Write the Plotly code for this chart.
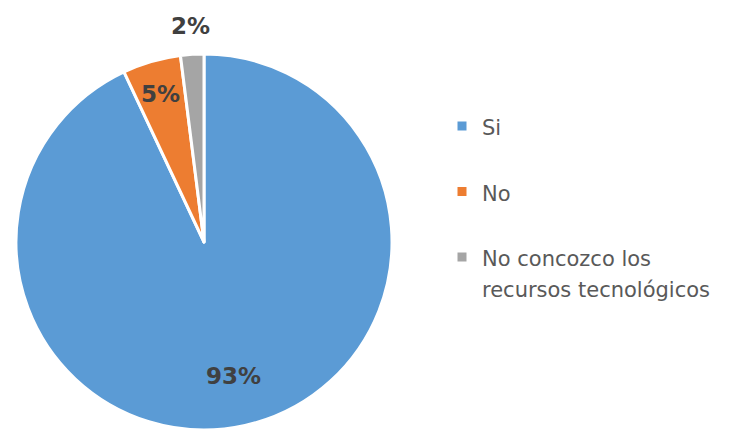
import math
import plotly.graph_objects as go

# Survey answers and their shares (%)
categories = ["Si", "No", "No concozco los recursos tecnológicos"]
legend_lines = [["Si"], ["No"], ["No concozco los", "recursos tecnológicos"]]
shares = [93, 5, 2]
colors = ["#5B9BD5", "#ED7D31", "#A5A5A5"]

W, H = 745, 430

# pie geometry in pixels (domain derived from it)
cx, cy, r = 204, 242, 188
# distance of each percentage label from the centre, as a fraction of the radius
label_radius = [0.73, 0.82, 1.15]

LEGEND_PX = 21


def legend_label(lines):
    body = "<br>".join(f"<span style='font-size:{LEGEND_PX}px'>{t}</span>" for t in lines)
    # one-line entries get a blank second line so the entries are spaced out
    return body + ("<br> " if len(lines) == 1 else "")


labels = [legend_label(l) for l in legend_lines]

fig = go.Figure(
    go.Pie(
        labels=labels,
        values=shares,
        customdata=categories,
        sort=False,
        direction="clockwise",
        rotation=0,
        marker=dict(colors=colors, line=dict(color="white", width=3)),
        textinfo="none",
        hovertemplate="%{customdata}: %{value}%<extra></extra>",
        domain=dict(
            x=[(cx - r) / W, (cx + r) / W],
            y=[max(0.0, 1 - (cy + r) / H), 1 - (cy - r) / H],
        ),
    )
)

# percentage labels placed along each slice's middle angle
total = sum(shares)
start = 0.0
for share, k in zip(shares, label_radius):
    mid = (start + share / 2) / total * 2 * math.pi
    start += share
    px = cx + k * r * math.sin(mid)
    py = cy - k * r * math.cos(mid)
    fig.add_annotation(
        x=px / W,
        y=1 - py / H,
        xref="paper",
        yref="paper",
        text=f"{round(share / total * 100)}%",
        showarrow=False,
        xanchor="center",
        yanchor="middle",
        font=dict(family="DejaVu Sans", size=23, color="#404040", weight="bold"),
    )

fig.update_layout(
    width=W,
    height=H,
    margin=dict(l=0, r=0, t=0, b=0),
    paper_bgcolor="white",
    plot_bgcolor="white",
    showlegend=True,
    legend=dict(
        x=442 / W,
        y=1 - 104 / H,
        xanchor="left",
        yanchor="top",
        valign="top",
        font=dict(family="DejaVu Sans", size=24, color="#595959"),
        bgcolor="rgba(0,0,0,0)",
    ),
)

fig.write_html("out.html")
